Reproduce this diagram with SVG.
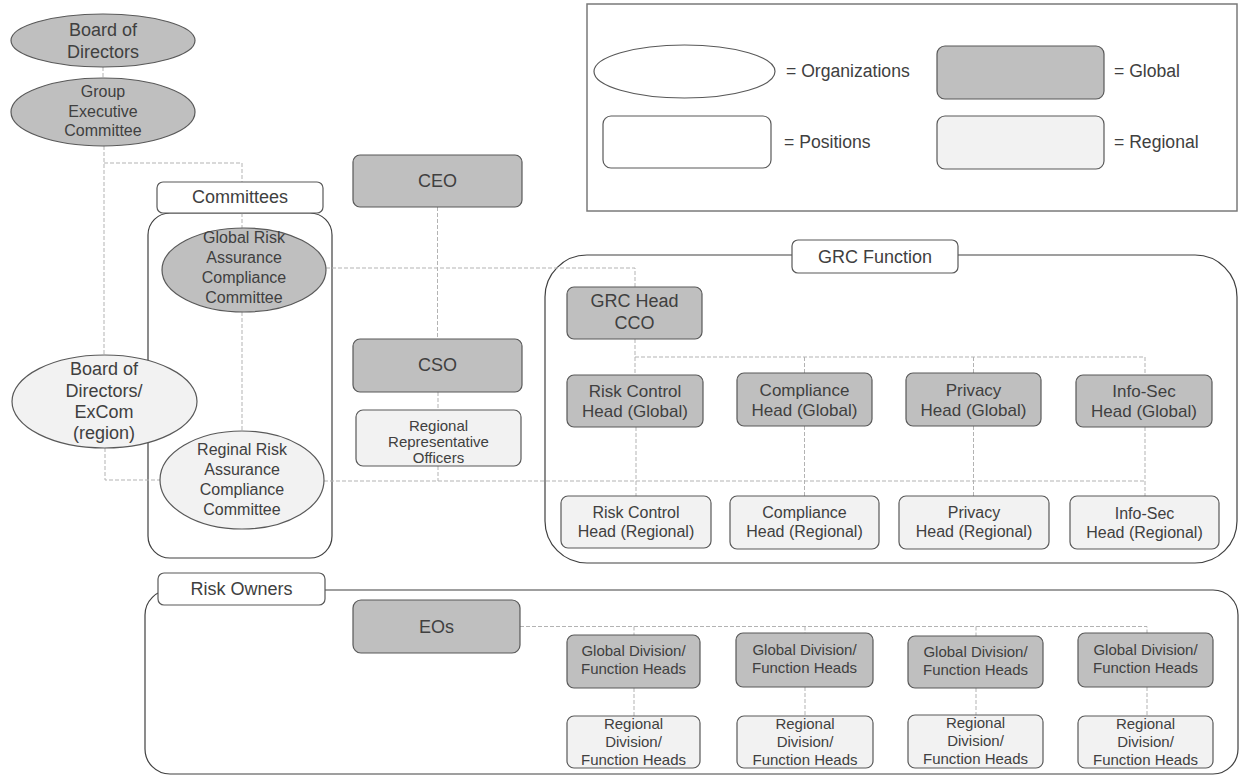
<svg xmlns="http://www.w3.org/2000/svg" width="1239" height="776" viewBox="0 0 1239 776">
<style>
text{font-family:"Liberation Sans",Arial,sans-serif;fill:#404040;text-anchor:middle}
.s{text-anchor:start}
.f18{font-size:18px}.f17{font-size:17px}.f16{font-size:16px}.f15{font-size:15px}.fl{font-size:17.6px}
.g{fill:#bfbfbf;stroke:#595959;stroke-width:1.2}
.r{fill:#f2f2f2;stroke:#595959;stroke-width:1.2}
.w{fill:#fff;stroke:#595959;stroke-width:1.2}
.box{fill:none;stroke:#404040;stroke-width:1.2}
.leg{fill:#fff;stroke:#7a7a7a;stroke-width:1.5}
.cn{fill:none;stroke:#b3b3b3;stroke-width:1;stroke-dasharray:4 2}
</style>
<rect id="background" width="1239" height="776" fill="#fff"/>
<g id="legend">
<rect class="leg" x="587" y="4" width="650" height="207"/>
<ellipse class="w" cx="684.5" cy="71.5" rx="90.5" ry="26.5"/>
<text class="s fl" x="786" y="77">= Organizations</text>
<rect class="w" x="603" y="116" width="168" height="52" rx="8"/>
<text class="s fl" x="784" y="148">= Positions</text>
<rect class="g" x="937" y="46" width="167" height="53" rx="8"/>
<text class="s fl" x="1114" y="77">= Global</text>
<rect class="r" x="937" y="116" width="167" height="53" rx="8"/>
<text class="s fl" x="1114" y="148">= Regional</text>
</g>
<g id="containers">
<rect id="committees-box" class="box" x="148" y="213" width="184" height="345" rx="22"/>
<rect id="grc-box" class="box" x="545" y="255" width="692" height="308" rx="42"/>
<rect id="riskowners-box" class="box" x="145" y="590" width="1093" height="184" rx="25"/>
</g>
<g id="connectors">
<path class="cn" d="M103 67V78"/>
<path class="cn" d="M104 146V355"/>
<path class="cn" d="M104 163H242V182"/>
<path class="cn" d="M242 213V229"/>
<path class="cn" d="M242 312V431"/>
<path class="cn" d="M326 268H635V287"/>
<path class="cn" d="M437.5 207V339"/>
<path class="cn" d="M438 392V410"/>
<path class="cn" d="M438 466V481"/>
<path class="cn" d="M105 448V480H160"/>
<path class="cn" d="M324 481H1145"/>
<path class="cn" d="M635 339V357H1145V375"/>
<path class="cn" d="M635 357V375M804.5 357V373M973.5 357V373"/>
<path class="cn" d="M636 427V496M804.5 426V496M973.5 426V496M1145 427V496"/>
<path class="cn" d="M520 626.5H1147V633"/>
<path class="cn" d="M634 626.5V635M805 626.5V633M976 626.5V636"/>
<path class="cn" d="M634 688V716M805 687V716M976 688V716M1147 687V716"/>
</g>
<g id="board-of-directors">
<ellipse class="g" cx="103" cy="40.5" rx="92" ry="26.5"/>
<text class="f18" x="103" y="36">Board of</text>
<text class="f18" x="103" y="58">Directors</text>
</g>
<g id="group-executive-committee">
<ellipse class="g" cx="103" cy="112" rx="92" ry="34"/>
<text class="f16" x="103" y="97">Group</text>
<text class="f16" x="103" y="117">Executive</text>
<text class="f16" x="103" y="136">Committee</text>
</g>
<g id="committees-label">
<rect class="w" x="157" y="182" width="166" height="31" rx="6"/>
<text class="f18" x="240" y="203">Committees</text>
</g>
<g id="global-risk-committee">
<ellipse class="g" cx="244" cy="270" rx="82" ry="42"/>
<text class="f16" x="244" y="243">Global Risk</text>
<text class="f16" x="244" y="263">Assurance</text>
<text class="f16" x="244" y="283">Compliance</text>
<text class="f16" x="244" y="303">Committee</text>
</g>
<g id="board-region">
<ellipse class="r" cx="104.5" cy="401.5" rx="92.5" ry="46.5"/>
<text class="f18" x="104" y="375">Board of</text>
<text class="f18" x="104" y="397">Directors/</text>
<text class="f18" x="104" y="418">ExCom</text>
<text class="f18" x="104" y="439">(region)</text>
</g>
<g id="regional-risk-committee">
<ellipse class="r" cx="242" cy="480" rx="82" ry="49"/>
<text class="f16" x="242" y="455">Reginal Risk</text>
<text class="f16" x="242" y="475">Assurance</text>
<text class="f16" x="242" y="495">Compliance</text>
<text class="f16" x="242" y="515">Committee</text>
</g>
<g id="ceo">
<rect class="g" x="353" y="155" width="169" height="52" rx="7"/>
<text class="f18" x="437.5" y="187">CEO</text>
</g>
<g id="cso">
<rect class="g" x="353" y="339" width="169" height="53" rx="7"/>
<text class="f18" x="437.5" y="371">CSO</text>
</g>
<g id="regional-representative-officers">
<rect class="r" x="356" y="410" width="165" height="56" rx="7"/>
<text class="f15" x="438.5" y="431">Regional</text>
<text class="f15" x="438.5" y="447">Representative</text>
<text class="f15" x="438.5" y="463">Officers</text>
</g>
<g id="grc-function-label">
<rect class="w" x="792" y="240" width="166" height="33" rx="6"/>
<text class="f18" x="875" y="263">GRC Function</text>
</g>
<g id="grc-head">
<rect class="g" x="567" y="287" width="135" height="52" rx="7"/>
<text class="f18" x="634.5" y="307">GRC Head</text>
<text class="f18" x="634.5" y="329">CCO</text>
</g>
<g id="risk-control-global">
<rect class="g" x="567" y="375" width="136" height="52" rx="7"/>
<text class="f17" x="635" y="397">Risk Control</text>
<text class="f17" x="635" y="417">Head (Global)</text>
</g>
<g id="compliance-global">
<rect class="g" x="737" y="373" width="135" height="53" rx="7"/>
<text class="f17" x="804.5" y="396">Compliance</text>
<text class="f17" x="804.5" y="416">Head (Global)</text>
</g>
<g id="privacy-global">
<rect class="g" x="906" y="373" width="135" height="53" rx="7"/>
<text class="f17" x="973.5" y="396">Privacy</text>
<text class="f17" x="973.5" y="416">Head (Global)</text>
</g>
<g id="infosec-global">
<rect class="g" x="1076" y="375" width="136" height="52" rx="7"/>
<text class="f17" x="1144" y="397">Info-Sec</text>
<text class="f17" x="1144" y="417">Head (Global)</text>
</g>
<g id="risk-control-regional">
<rect class="r" x="561" y="496" width="150" height="52" rx="7"/>
<text class="f16" x="636" y="518">Risk Control</text>
<text class="f16" x="636" y="537">Head (Regional)</text>
</g>
<g id="compliance-regional">
<rect class="r" x="730" y="496" width="149" height="53" rx="7"/>
<text class="f16" x="804.5" y="518">Compliance</text>
<text class="f16" x="804.5" y="537">Head (Regional)</text>
</g>
<g id="privacy-regional">
<rect class="r" x="899" y="496" width="150" height="53" rx="7"/>
<text class="f16" x="974" y="518">Privacy</text>
<text class="f16" x="974" y="537">Head (Regional)</text>
</g>
<g id="infosec-regional">
<rect class="r" x="1070" y="496" width="149" height="53" rx="7"/>
<text class="f16" x="1144.5" y="519">Info-Sec</text>
<text class="f16" x="1144.5" y="538">Head (Regional)</text>
</g>
<g id="risk-owners-label">
<rect class="w" x="158" y="573" width="167" height="32" rx="6"/>
<text class="f18" x="241.5" y="595">Risk Owners</text>
</g>
<g id="eos">
<rect class="g" x="353" y="600" width="167" height="53" rx="8"/>
<text class="f18" x="436.5" y="633">EOs</text>
</g>
<g id="global-division-1">
<rect class="g" x="567" y="635" width="133" height="53" rx="7"/>
<text class="f15" x="633.5" y="656">Global Division/</text>
<text class="f15" x="633.5" y="674">Function Heads</text>
</g>
<g id="global-division-2">
<rect class="g" x="736" y="633" width="137" height="54" rx="7"/>
<text class="f15" x="804.5" y="655">Global Division/</text>
<text class="f15" x="804.5" y="673">Function Heads</text>
</g>
<g id="global-division-3">
<rect class="g" x="908" y="636" width="135" height="52" rx="7"/>
<text class="f15" x="975.5" y="657">Global Division/</text>
<text class="f15" x="975.5" y="675">Function Heads</text>
</g>
<g id="global-division-4">
<rect class="g" x="1078" y="633" width="135" height="54" rx="7"/>
<text class="f15" x="1145.5" y="655">Global Division/</text>
<text class="f15" x="1145.5" y="673">Function Heads</text>
</g>
<g id="regional-division-1">
<rect class="r" x="567" y="716" width="133" height="52" rx="7"/>
<text class="f15" x="633.5" y="729">Regional</text>
<text class="f15" x="633.5" y="747">Division/</text>
<text class="f15" x="633.5" y="765">Function Heads</text>
</g>
<g id="regional-division-2">
<rect class="r" x="737" y="716" width="136" height="52" rx="7"/>
<text class="f15" x="805" y="729">Regional</text>
<text class="f15" x="805" y="747">Division/</text>
<text class="f15" x="805" y="765">Function Heads</text>
</g>
<g id="regional-division-3">
<rect class="r" x="908" y="715" width="135" height="53" rx="7"/>
<text class="f15" x="975.5" y="728">Regional</text>
<text class="f15" x="975.5" y="746">Division/</text>
<text class="f15" x="975.5" y="764">Function Heads</text>
</g>
<g id="regional-division-4">
<rect class="r" x="1078" y="716" width="135" height="52" rx="7"/>
<text class="f15" x="1145.5" y="729">Regional</text>
<text class="f15" x="1145.5" y="747">Division/</text>
<text class="f15" x="1145.5" y="765">Function Heads</text>
</g>
</svg>
